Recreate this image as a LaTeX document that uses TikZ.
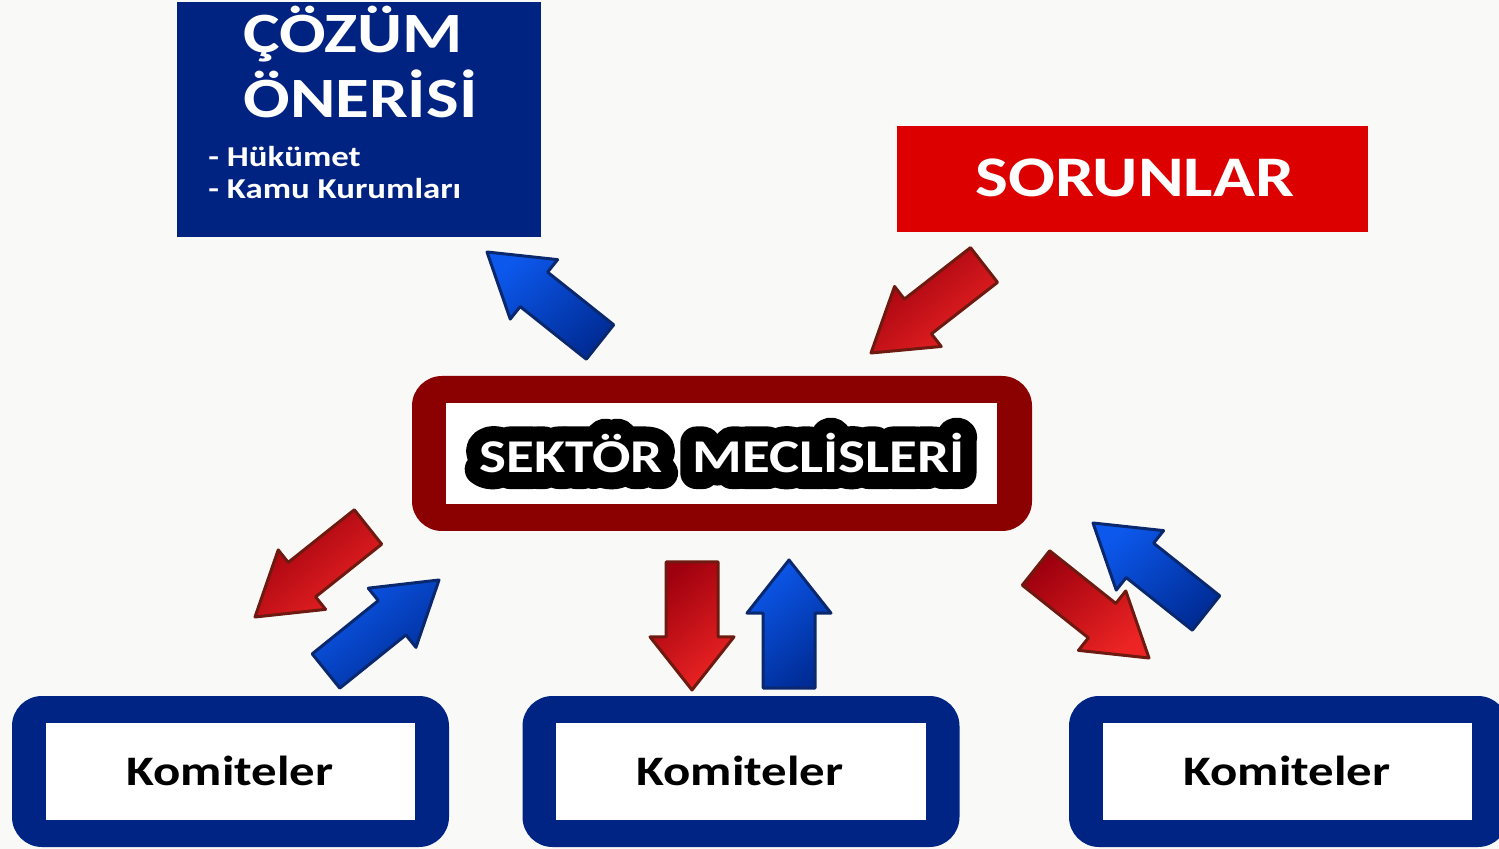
\documentclass[tikz,border=0pt]{standalone}
\usepackage{fontspec}
\setmainfont{Carlito}[FakeStretch=1.21]
\usetikzlibrary{calc}
\definecolor{bgc}{RGB}{249,249,247}
\definecolor{navy}{RGB}{0,36,132}
\definecolor{cozblue}{RGB}{0,35,130}
\definecolor{sorred}{RGB}{220,0,0}
\definecolor{darkframe}{RGB}{139,0,0}
\definecolor{redA}{RGB}{158,0,14}
\definecolor{redB}{RGB}{236,36,36}
\definecolor{redline}{RGB}{110,26,16}
\definecolor{blueA}{RGB}{12,88,236}
\definecolor{blueB}{RGB}{0,44,150}
\definecolor{blueline}{RGB}{10,40,110}
\tikzset{
  redarr/.style={top color=redA, bottom color=redB, shading angle=40, draw=redline, line width=1.5pt, line join=round},
  bluearr/.style={top color=blueA, bottom color=blueB, shading angle=40, draw=blueline, line width=1.5pt, line join=round},
  frame/.style={rounded corners=15pt, inner sep=0pt},
  whitebox/.style={fill=white, inner sep=0pt},
  komtxt/.style={text=black, inner sep=0pt, anchor=base, font=\fontsize{21}{24}\selectfont\bfseries},
  sektxt/.style={inner sep=0pt, anchor=base, font=\fontsize{23.5}{26}\selectfont\bfseries},
}
\newcommand{\strokeon}{\special{pdf:literal direct 2 Tr 16 w 1 j 1 J}}
\newcommand{\strokeoff}{\special{pdf:literal direct 0 Tr 0.4 w 0 j 0 J}}
% #1 style, #2 tail, #3 tip, #4 shaft half width, #5 head half width
\newcommand{\blockarr}[5]{%
  \coordinate (hb) at ($(#2)!0.585!(#3)$);
  \path[#1] ($(#2)!#4!90:(#3)$) -- ($(hb)!#4!90:(#3)$) -- ($(hb)!#5!90:(#3)$) -- (#3)
    -- ($(hb)!#5!-90:(#3)$) -- ($(hb)!#4!-90:(#3)$) -- ($(#2)!#4!-90:(#3)$) -- cycle;
}
\begin{document}
\begin{tikzpicture}[x=0.5pt,y=-0.5pt]
\useasboundingbox (0,0) rectangle (1499,849);
\fill[bgc] (0,0) rectangle (1499,849);

% Cozum onerisi
\node[fill=cozblue, minimum width=182pt, minimum height=117.5pt, inner sep=0pt] (coz) at (359,119.5) {};
\node[text=white, anchor=base west, inner sep=0pt, font=\fontsize{28.5}{32}\selectfont\bfseries] (coz1) at (243,53) {ÇÖZÜM};
\node[text=white, anchor=base west, inner sep=0pt, font=\fontsize{28.5}{32}\selectfont\bfseries] (coz2) at (243,118) {ÖNERİSİ};
\node[text=white, anchor=base west, inner sep=0pt, font=\fontsize{14.4}{16}\selectfont\bfseries] (coz3) at (208,167) {- Hükümet};
\node[text=white, anchor=base west, inner sep=0pt, font=\fontsize{14.4}{16}\selectfont\bfseries] (coz4) at (208,199) {- Kamu Kurumları};

% Sorunlar
\node[fill=sorred, minimum width=235.5pt, minimum height=53pt, inner sep=0pt] (sor) at (1132.5,179) {};
\node[text=white, anchor=base, inner sep=0pt, font=\fontsize{28.7}{32}\selectfont\bfseries] (sortxt) at (1135,197) {SORUNLAR};

% Sektor meclisleri
\node[frame, fill=darkframe, minimum width=310pt, minimum height=77.5pt] (sek) at (722,453.5) {};
\node[whitebox, minimum width=275.5pt, minimum height=50.5pt] (sekin) at (721.5,453.5) {};
\node[sektxt, text=black] (sekout) at (722,473) {\strokeon SEKTÖR\hspace{15pt}MECLİSLERİ\strokeoff};
\node[sektxt, text=white] (sektxt) at (722,473) {SEKTÖR\hspace{15pt}MECLİSLERİ};

% Komiteler
\node[frame, fill=navy, minimum width=218.5pt, minimum height=75.5pt] (kom1) at (230.5,771.5) {};
\node[whitebox, minimum width=184.5pt, minimum height=48.5pt] (kom1in) at (230.5,771.5) {};
\node[komtxt] (kom1txt) at (230,785) {Komiteler};

\node[frame, fill=navy, minimum width=218.5pt, minimum height=75.5pt] (kom2) at (741,771.5) {};
\node[whitebox, minimum width=185pt, minimum height=48.5pt] (kom2in) at (741,771.5) {};
\node[komtxt] (kom2txt) at (740,785) {Komiteler};

\node[frame, fill=navy, minimum width=219.5pt, minimum height=75.5pt] (kom3) at (1288.5,771.5) {};
\node[whitebox, minimum width=184.5pt, minimum height=48.5pt] (kom3in) at (1287.5,771.5) {};
\node[komtxt] (kom3txt) at (1287,785) {Komiteler};

% arrow end points
\coordinate (a1t) at (600,342); \coordinate (a1h) at (487,252);
\coordinate (a2t) at (984,265); \coordinate (a2h) at (871,353);
\coordinate (a3t) at (368,527); \coordinate (a3h) at (255,617);
\coordinate (a4t) at (326,671); \coordinate (a4h) at (439,580);
\coordinate (a5t) at (692,562); \coordinate (a5h) at (692,690);
\coordinate (a6t) at (789,688); \coordinate (a6h) at (789,560);
\coordinate (a7t) at (1036,568); \coordinate (a7h) at (1149,658);
\coordinate (a8t) at (1206,613); \coordinate (a8h) at (1093,523);

\blockarr{bluearr}{a1t}{a1h}{11pt}{19pt}
\blockarr{redarr}{a2t}{a2h}{11pt}{19pt}
\blockarr{redarr}{a3t}{a3h}{11pt}{19pt}
\blockarr{bluearr}{a4t}{a4h}{11pt}{19pt}
\blockarr{redarr}{a5t}{a5h}{13pt}{21pt}
\blockarr{bluearr}{a6t}{a6h}{13pt}{21pt}
\blockarr{redarr}{a7t}{a7h}{11pt}{19pt}
\blockarr{bluearr}{a8t}{a8h}{11pt}{19pt}
\end{tikzpicture}
\end{document}
